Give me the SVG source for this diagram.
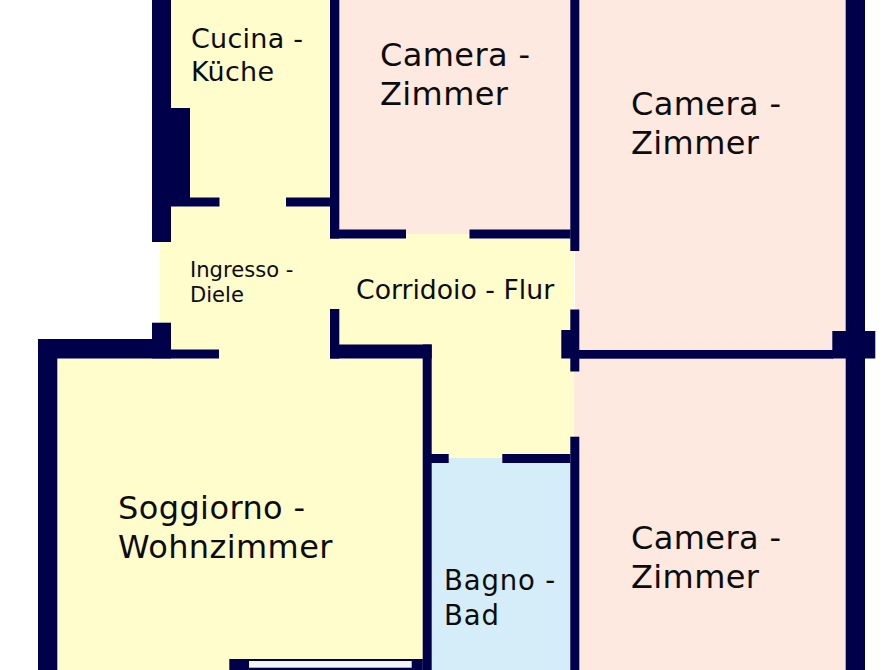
<svg xmlns="http://www.w3.org/2000/svg" width="893" height="670" viewBox="0 0 893 670">
<style>
.y{fill:#fffdcc}.p{fill:#fde9e0}.b{fill:#d5edf8}.w{fill:#00004a}
text{font-family:"DejaVu Sans",sans-serif;fill:#0c0c0c}
.l{font-size:32px;letter-spacing:.4px}.m{font-size:27px;letter-spacing:.25px}.c{font-size:26.7px}.s{font-size:21.1px}.g{font-size:27.5px;letter-spacing:.85px}
</style>
<rect width="893" height="670" fill="#ffffff"/>
<g id="camera-1"><rect class="p" x="335" y="0" width="240" height="234"/>
<text class="l" x="380" y="66">Camera -</text><text class="l" x="380" y="105">Zimmer</text></g>
<g id="camera-2"><rect class="p" x="575" y="0" width="275" height="354"/>
<text class="l" x="631" y="115">Camera -</text><text class="l" x="631" y="154">Zimmer</text></g>
<g id="camera-3"><rect class="p" x="574" y="354" width="276" height="316"/>
<text class="l" x="631" y="549">Camera -</text><text class="l" x="631" y="588">Zimmer</text></g>
<g id="bagno"><rect class="b" x="431" y="457" width="140" height="213"/>
<text class="g" x="444" y="590">Bagno -</text><text class="g" x="444" y="624.500">Bad</text></g>
<g id="cucina"><rect class="y" x="171" y="0" width="161" height="200"/>
<text class="m" x="191" y="48">Cucina -</text><text class="m" x="191" y="80.500">Küche</text></g>
<g id="ingresso"><rect class="y" x="160" y="200" width="175" height="155"/>
<text class="s" x="190" y="277">Ingresso -</text><text class="s" x="190" y="302">Diele</text></g>
<g id="corridoio"><rect class="y" x="331" y="234" width="243" height="224"/>
<text class="c" x="356" y="299">Corridoio - Flur</text></g>
<g id="soggiorno"><rect class="y" x="55" y="355" width="370" height="304"/><rect class="y" x="55" y="659" width="176" height="11"/>
<text class="l" x="118" y="519">Soggiorno -</text><text class="l" x="118" y="557.500">Wohnzimmer</text></g>
<g id="muri">
<rect class="w" x="152" y="0" width="19" height="242"/>
<rect class="w" x="171" y="108" width="19" height="98"/>
<rect class="w" x="171" y="197.500" width="48.500" height="9"/>
<rect class="w" x="286" y="197.500" width="45" height="9"/>
<rect class="w" x="330" y="0" width="9.300" height="238.500"/>
<rect class="w" x="330" y="229.500" width="76" height="9"/>
<rect class="w" x="469.500" y="229.500" width="101" height="9"/>
<rect class="w" x="570.300" y="0" width="9" height="251"/>
<rect class="w" x="570.300" y="309.500" width="9" height="62"/>
<rect class="w" x="561.300" y="330" width="10" height="28.500"/>
<rect class="w" x="570.300" y="436.700" width="9" height="233.300"/>
<rect class="w" x="579" y="350" width="254" height="8.700"/>
<rect class="w" x="845.700" y="0" width="19.300" height="670"/>
<rect class="w" x="832.300" y="331" width="43" height="27.500"/>
<rect class="w" x="152" y="322.700" width="19" height="36"/>
<rect class="w" x="38" y="339" width="114" height="19.500"/>
<rect class="w" x="38" y="339" width="19.300" height="331"/>
<rect class="w" x="171" y="349.500" width="48" height="9"/>
<rect class="w" x="330" y="309" width="9.300" height="49.500"/>
<rect class="w" x="330" y="344.500" width="101.700" height="14"/>
<rect class="w" x="422.700" y="344.500" width="9" height="325.500"/>
<rect class="w" x="431" y="454" width="17.700" height="9"/>
<rect class="w" x="502.300" y="454" width="68" height="9"/>
<rect class="w" x="229.300" y="659" width="193.500" height="11"/>
<rect x="249" y="661" width="162.700" height="6.700" fill="#f4f4fc"/>
</g>
</svg>
